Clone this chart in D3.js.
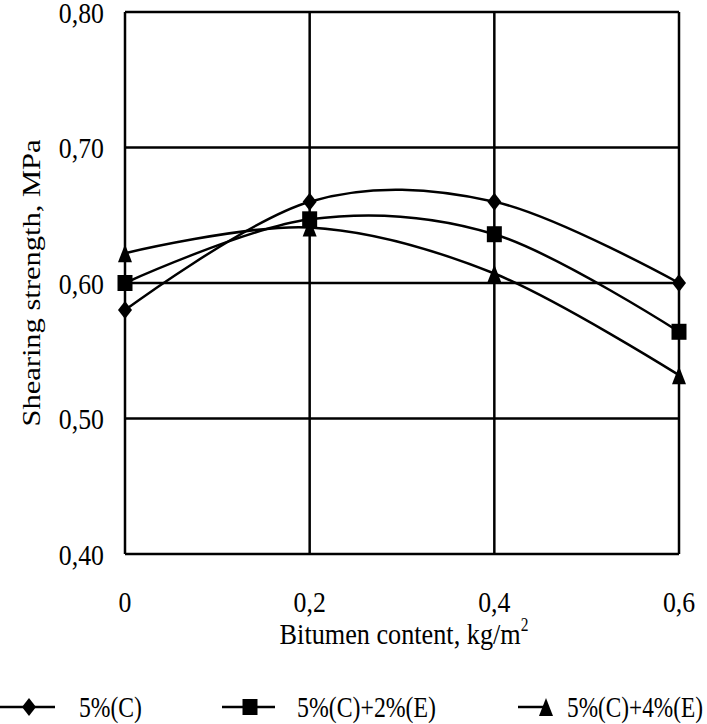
<!DOCTYPE html>
<html><head><meta charset="utf-8">
<script src="https://cdn.jsdelivr.net/npm/d3@7"></script>
<style>
html,body{margin:0;padding:0;background:#fff;}
svg{display:block;}
</style></head>
<body>
<svg id="chart" width="707" height="724"></svg>
<script>
const xValues = [0, 0.2, 0.4, 0.6];
const xTickLabels = ["0", "0,2", "0,4", "0,6"];
const yTicks = [0.40, 0.50, 0.60, 0.70, 0.80];
const yTickLabels = ["0,40", "0,50", "0,60", "0,70", "0,80"];
const seriesNames = ["5%(C)", "5%(C)+2%(E)", "5%(C)+4%(E)"];
const seriesMarkers = ["diamond", "square", "triangle"];
const valuesC = [0.58, 0.66, 0.66, 0.60];
const valuesC2E = [0.60, 0.647, 0.636, 0.564];
const valuesC4E = [0.622, 0.641, 0.607, 0.532];
const seriesValues = [valuesC, valuesC2E, valuesC4E];

const FONT = "Liberation Serif";
const SX = 0.86; // horizontal squash of the reference text
const svg = d3.select("#chart");
const L = 125, R = 679, T = 12, B = 554;
const x = d3.scaleLinear().domain([0, 0.6]).range([L, R]);
const y = d3.scaleLinear().domain([0.4, 0.8]).range([B, T]);

function sq(px, py) { return `translate(${px},${py}) scale(${SX},1)`; }

// grid
const g = svg.append("g");
g.selectAll("line.h").data(yTicks).join("line")
  .attr("x1", L).attr("x2", R).attr("y1", d => y(d)).attr("y2", d => y(d))
  .attr("stroke", "#000").attr("stroke-width", 2.5);
g.selectAll("line.v").data(xValues).join("line")
  .attr("y1", T).attr("y2", B).attr("x1", d => x(d)).attr("x2", d => x(d))
  .attr("stroke", "#000").attr("stroke-width", 2.5);

// y tick labels
svg.append("g").selectAll("text").data(yTicks).join("text")
  .attr("font-family", FONT)
  .attr("transform", d => sq(104, y(d) + 10.5))
  .attr("text-anchor", "end").attr("font-size", 30)
  .text((d, i) => yTickLabels[i]);

// x tick labels
svg.append("g").selectAll("text").data(xValues).join("text")
  .attr("font-family", FONT)
  .attr("transform", d => sq(x(d), 612))
  .attr("text-anchor", "middle").attr("font-size", 30)
  .text((d, i) => xTickLabels[i]);

// axis titles
svg.append("text").attr("font-family", FONT)
  .attr("transform", `translate(39.5,283) scale(${SX},1) rotate(-90)`)
  .attr("text-anchor", "middle").attr("font-size", 30.5)
  .text("Shearing strength, MPa");
const xt = svg.append("text").attr("font-family", FONT)
  .attr("transform", sq(404, 644))
  .attr("text-anchor", "middle").attr("font-size", 30.5);
xt.append("tspan").text("Bitumen content, kg/m");
xt.append("tspan").attr("font-size", 18).attr("dy", -13).text("2");

// markers
function marker(sel, type, cx, cy) {
  let p;
  if (type === "diamond") p = `M${cx},${cy-9} L${cx+7},${cy} L${cx},${cy+9} L${cx-7},${cy} Z`;
  else if (type === "square") p = `M${cx-7.5},${cy-8} h15 v16 h-15 Z`;
  else p = `M${cx},${cy-9} L${cx+7},${cy+9} L${cx-7},${cy+9} Z`;
  sel.append("path").attr("d", p).attr("fill", "#000");
}

const line = d3.line().x((d, i) => x(xValues[i])).y(d => y(d)).curve(d3.curveCardinal.tension(0));
seriesValues.forEach((vals, si) => {
  svg.append("path").attr("d", line(vals)).attr("fill", "none")
    .attr("stroke", "#000").attr("stroke-width", 2.5);
  const mg = svg.append("g");
  vals.forEach((v, i) => marker(mg, seriesMarkers[si], x(xValues[i]), y(v)));
});

// legend
const legendLines = [[0, 55, 29], [222, 275, 250], [518, 545, 546]];
const legendTextX = [79, 297, 567];
const legendTextLen = [63, 139, 136];
const ly = 707;
seriesNames.forEach((name, i) => {
  const [x1, x2, mx] = legendLines[i];
  svg.append("line").attr("x1", x1).attr("x2", x2).attr("y1", ly).attr("y2", ly)
    .attr("stroke", "#000").attr("stroke-width", 2.5);
  marker(svg, seriesMarkers[i], mx, ly);
  svg.append("text").attr("font-family", FONT).attr("x", legendTextX[i]).attr("y", 717)
    .attr("font-size", 29).attr("textLength", legendTextLen[i]).attr("lengthAdjust", "spacingAndGlyphs")
    .text(name);
});
</script>
</body></html>
